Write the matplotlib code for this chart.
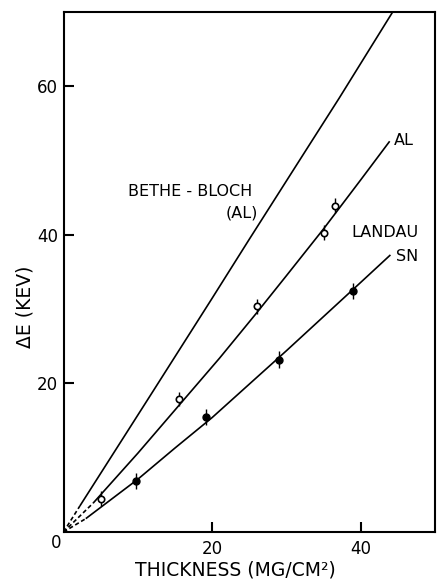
import matplotlib
matplotlib.use("Agg")
import matplotlib.pyplot as plt

# ---- data ----
# Bethe-Bloch (AL) curve (first segment dashed)
bb_x = [0, 2.2, 11.7, 19.9, 25.0, 32.7, 37.1, 44.3]
bb_y = [0, 3.5, 18.4, 31.3, 39.4, 51.5, 58.4, 70.0]

# Landau AL curve
al_x = [0, 4.0, 10.0, 15.5, 21.0, 26.0, 30.0, 35.0, 40.0, 43.9]
al_y = [0, 3.9, 10.6, 17.0, 23.4, 29.5, 34.5, 40.8, 47.4, 52.6]

# Landau SN curve
sn_x = [0, 3.0, 10.0, 15.0, 20.0, 25.0, 30.0, 35.0, 40.0, 44.0]
sn_y = [0, 1.8, 7.1, 11.3, 15.4, 19.9, 24.4, 29.0, 33.6, 37.3]

# measured points
al_pts_x = [5.0, 15.5, 26.0, 35.1, 36.6]
al_pts_y = [4.5, 17.9, 30.4, 40.3, 43.9]
al_pts_err = [1.0, 1.0, 1.0, 1.0, 1.0]

sn_pts_x = [9.7, 19.2, 29.0, 38.9]
sn_pts_y = [6.85, 15.5, 23.2, 32.4]
sn_pts_err = [1.1, 1.1, 1.1, 1.1]

x_ticks = [20, 40]
y_ticks = [20, 40, 60]

# ---- figure ----
fig = plt.figure(figsize=(4.38, 5.8), dpi=100)
ax = fig.add_axes([63.5 / 438, 48 / 580, (435 - 63.5) / 438, (532 - 12) / 580])
ax.set_xlim(0, 50)
ax.set_ylim(0, 70)

lw = 1.2
dash = (0, (2.5, 1.6))
for xs, ys in [(bb_x, bb_y), (al_x, al_y), (sn_x, sn_y)]:
    ax.plot(xs[:2], ys[:2], color="black", lw=lw, ls=dash)
    ax.plot(xs[1:], ys[1:], color="black", lw=lw, solid_capstyle="butt",
            solid_joinstyle="round")

ax.errorbar(al_pts_x, al_pts_y, yerr=al_pts_err, fmt="o", ms=4.6,
            mfc="white", mec="black", mew=1.2, ecolor="black", elinewidth=1.0,
            capsize=0, zorder=5)
ax.errorbar(sn_pts_x, sn_pts_y, yerr=sn_pts_err, fmt="o", ms=5.0,
            mfc="black", mec="black", ecolor="black", elinewidth=1.0,
            capsize=0, zorder=5)

# axes styling
for s in ax.spines.values():
    s.set_linewidth(1.5)
ax.set_xticks(x_ticks)
ax.set_yticks(y_ticks)
ax.tick_params(direction="in", length=7, width=1.5, labelsize=12, pad=4,
               top=False, right=False)
ax.tick_params(axis="x", pad=6)
ax.annotate("0", xy=(0, 0), xytext=(-5.4, -7.6), textcoords="offset points",
            ha="center", va="center", fontsize=12)

fs = 11.5
ax.text(17.1, 45.8, "BETHE - BLOCH", ha="center", va="center", fontsize=fs)
ax.text(26.2, 42.9, "(AL)", ha="right", va="center", fontsize=fs)
ax.text(44.5, 52.7, "AL", ha="left", va="center", fontsize=fs)
ax.text(38.8, 40.3, "LANDAU", ha="left", va="center", fontsize=fs)
ax.text(44.7, 37.05, "SN", ha="left", va="center", fontsize=fs)

fig.text(25 / 438, 1 - 306.7 / 580, "ΔE (KEV)", rotation=90,
         ha="center", va="center", fontsize=13.5)
fig.text(235 / 438, 1 - 570 / 580, "THICKNESS (MG/CM²)",
         ha="center", va="center", fontsize=13.5)

fig.savefig("out.png", dpi=100)
